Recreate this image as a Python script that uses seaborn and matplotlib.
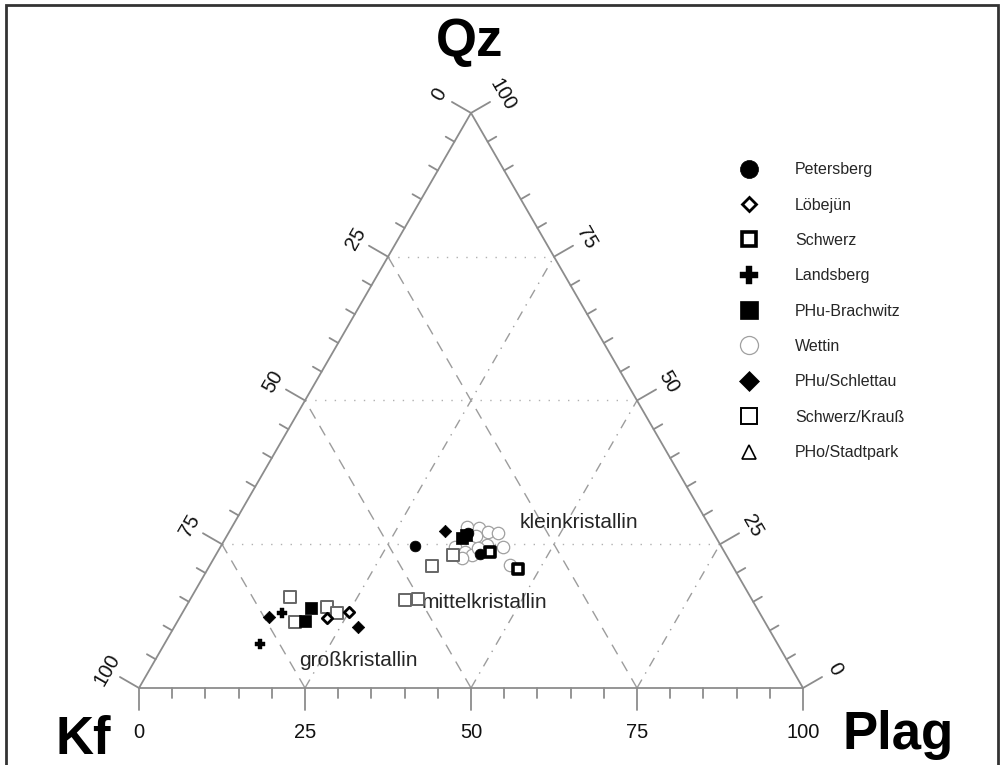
# -*- coding: utf-8 -*-
"""Qz - Kf - Plag ternary diagram of the porphyry samples."""

import matplotlib

matplotlib.use("Agg")
import matplotlib.pyplot as plt
import numpy as np
import seaborn as sns
from matplotlib.lines import Line2D
from matplotlib.patches import Rectangle

# Compositions in percent (Qz, Plag); Kf is the remainder to 100
petersberg_qz = [24.7, 27.0, 23.3]
petersberg_plag = [29.2, 36.0, 39.7]

loebejuen_qz = [12.2, 13.2]
loebejuen_plag = [22.2, 25.0]

schwerz_qz = [23.7, 20.7]
schwerz_plag = [41.0, 46.7]

landsberg_qz = [13.0, 7.7]
landsberg_plag = [15.0, 14.4]

brachwitz_qz = [13.9, 11.7, 26.1, 26.6]
brachwitz_plag = [18.9, 19.2, 35.6, 35.9]

wettin_qz = [28.0, 27.8, 27.1, 27.0, 26.4, 24.5, 23.7, 23.1, 22.6, 24.9, 24.5, 21.4, 24.3]
wettin_plag = [35.4, 37.3, 39.0, 40.6, 37.6, 35.3, 37.3, 38.6, 37.3, 40.0, 42.5, 45.2, 38.9]

schlettau_qz = [12.3, 10.6, 27.3]
schlettau_plag = [13.5, 27.7, 32.4]

krauss_qz = [15.8, 11.5, 14.1, 13.0, 15.3, 15.5, 23.1, 21.2]
krauss_plag = [14.8, 17.8, 21.3, 23.3, 32.4, 34.2, 35.7, 33.5]

stadtpark_qz = []
stadtpark_plag = []

group_names = [
    "Petersberg", "Löbejün", "Schwerz", "Landsberg", "PHu-Brachwitz",
    "Wettin", "PHu/Schlettau", "Schwerz/Krauß", "PHo/Stadtpark",
]
group_qz = [petersberg_qz, loebejuen_qz, schwerz_qz, landsberg_qz, brachwitz_qz,
            wettin_qz, schlettau_qz, krauss_qz, stadtpark_qz]
group_plag = [petersberg_plag, loebejuen_plag, schwerz_plag, landsberg_plag, brachwitz_plag,
              wettin_plag, schlettau_plag, krauss_plag, stadtpark_plag]

axis_ticks = [0, 25, 50, 75, 100]
field_names = ["kleinkristallin", "mittelkristallin", "großkristallin"]

# marker, size, face, edge, linewidth, legend size, zorder
styles = [
    ("o", 60, "black", "black", 0.5, 13, 4),
    ("D", 28, "white", "black", 2.0, 7.5, 4),
    ("s", 50, "white", "black", 2.6, 10, 4),
    ("P", 60, "black", "black", 0.3, 13, 4),
    ("s", 75, "black", "black", 0.5, 13, 4),
    ("o", 80, "white", "#a0a0a0", 0.9, 13, 3),
    ("D", 40, "black", "black", 0.5, 10, 4),
    ("s", 75, "white", "#666666", 1.4, 12, 3.5),
    ("^", 60, "white", "black", 1.2, 10, 4),
]

H = np.sqrt(3) / 2
PX = 664.0  # pixels per unit side


def tern(qz, plag):
    qz = np.asarray(qz, dtype=float) / 100
    plag = np.asarray(plag, dtype=float) / 100
    return plag + qz / 2, qz * H


sns.set_style("white")
plt.rcParams["font.family"] = ["Liberation Sans", "DejaVu Sans"]

fig = plt.figure(figsize=(10.05, 7.65), dpi=100)
ax = fig.add_axes([0, 0, 1, 1])
ax.set_xlim(-139 / PX, 866 / PX)
ax.set_ylim(-77 / PX, 688 / PX)
ax.axis("off")

edge = "#8c8c8c"
grid = "#9c9c9c"

# Triangle outline
ax.plot([0, 1, 0.5, 0], [0, 0, H, 0], color=edge, lw=1.3, zorder=2)

# Internal guide lines
for v in axis_ticks[1:-1]:
    # constant Qz (dotted)
    x0, y0 = tern(v, 0)
    x1, y1 = tern(v, 100 - v)
    ax.plot([x0, x1], [y0, y1], color="#b0b0b0", lw=1.0, dashes=(1, 6), zorder=1)
    # constant Kf (dashed)
    x0, y0 = tern(0, 100 - v)
    x1, y1 = tern(100 - v, 0)
    ax.plot([x0, x1], [y0, y1], color=grid, lw=1.0, dashes=(8, 6), zorder=1)
    # constant Plag (dash-dot)
    x0, y0 = tern(0, v)
    x1, y1 = tern(100 - v, v)
    ax.plot([x0, x1], [y0, y1], color=grid, lw=1.0, dashes=(7, 5, 1, 5), zorder=1)

# Ticks on all three edges
for v in range(0, 101, 5):
    length = (22 if v % 25 == 0 else 10) / PX
    for (px, py), (nx, ny) in [
        (tern(0, v), (0, -1)),
        (tern(v, 0), (-H, 0.5)),
        (tern(v, 100 - v), (H, 0.5)),
    ]:
        ax.plot([px, px + nx * length], [py, py + ny * length], color=edge, lw=1.3, zorder=2)

# Tick labels
lab_kw = dict(fontsize=14.5, color="#111111", ha="center", va="center")
for v in axis_ticks:
    px, py = tern(0, v)
    ax.text(px, py - 45 / PX, str(v), **lab_kw)
    px, py = tern(100 - v, 0)  # Kf = v on left edge
    d = 37 / PX
    ax.text(px - H * d, py + 0.5 * d, str(v), rotation=60, **lab_kw)
    px, py = tern(v, 100 - v)  # Qz = v on right edge
    ax.text(px + H * d, py + 0.5 * d, str(v), rotation=-60, **lab_kw)

# Corner labels
corner_kw = dict(fontsize=38, fontweight="bold", ha="center", va="center", color="black")
ax.text((470 - 139) / PX, (688 - 42) / PX, "Qz", **corner_kw)
ax.text((83 - 139) / PX, (688 - 740) / PX, "Kf", **corner_kw)
ax.text((898 - 139) / PX, (688 - 735) / PX, "Plag", **corner_kw)

# Field names
field_px = [(520, 523), (422, 603), (299, 660)]
for name, (fx, fy) in zip(field_names, field_px):
    ax.text((fx - 139) / PX, (688 - fy) / PX, name, fontsize=15, ha="left", va="center")

# Sample points
handles = []
for name, qz, plag, (mk, s, fc, ec, lw, ms, z) in zip(group_names, group_qz, group_plag, styles):
    if len(qz):
        xs, ys = tern(qz, plag)
        sns.scatterplot(x=xs, y=ys, marker=mk, s=s, color=fc, edgecolor=ec,
                        linewidth=lw, ax=ax, legend=False, zorder=z)
    handles.append(Line2D([], [], linestyle="none", marker=mk, markersize=ms,
                          markerfacecolor=fc, markeredgecolor="black" if ec == "#666666" else ec,
                          markeredgewidth=lw, label=name))

ax.legend(handles=handles, loc="upper left", bbox_to_anchor=(0.733, 0.788),
          bbox_transform=fig.transFigure, frameon=False, fontsize=11.5,
          handlelength=1.5, handletextpad=2.14, labelspacing=1.275,
          borderpad=0, borderaxespad=0)

# Outer frame
fig.patches.append(Rectangle((6 / 1005, -0.05), 992 / 1005, 1.05 - 5 / 765,
                             transform=fig.transFigure, fill=False,
                             edgecolor="#333333", lw=2))

fig.savefig("out.png", dpi=100, facecolor="white")
